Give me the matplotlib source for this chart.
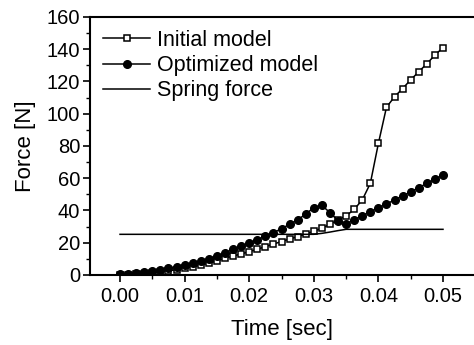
import numpy as np
import matplotlib.pyplot as plt
from matplotlib.ticker import MultipleLocator

plt.rcParams['font.family'] = ['Liberation Sans', 'DejaVu Sans']

# time grid (sec), 0.00125 step
time = np.arange(41) * 0.00125

initial = [0.0, 0.2, 0.5, 0.9, 1.4, 2.0, 2.6, 3.3, 4.1, 5.0,
           6.1, 7.2, 8.7, 10.3, 11.8, 13.0, 14.5, 15.9, 17.6, 19.2,
           20.7, 22.3, 23.8, 25.4, 27.1, 29.0, 31.4, 34.2, 36.6, 40.7,
           46.5, 56.8, 81.6, 104.0, 110.5, 115.6, 121.0, 126.0, 131.0, 136.3,
           141.0]
optimized = [0.3, 0.6, 1.2, 1.8, 2.5, 3.3, 4.2, 5.2, 6.3, 7.5,
             8.8, 10.2, 11.8, 13.8, 15.9, 17.8, 19.8, 21.9, 24.0, 26.2,
             28.7, 31.4, 34.1, 37.8, 41.7, 43.2, 38.6, 33.7, 31.6, 34.2,
             36.7, 39.2, 41.7, 44.0, 46.5, 49.0, 51.5, 54.1, 56.8, 59.3,
             62.0]
spring = [25.2] * 25 + [25.8, 26.6, 27.5, 28.3] + [28.3] * 12

fig = plt.figure(figsize=(4.74, 3.45), dpi=100)
ax = fig.add_axes([0.19, 0.203, 0.81, 0.748])

ax.plot(time, initial, color='black', lw=1.1, marker='s', markersize=5,
        markerfacecolor='white', markeredgecolor='black', markeredgewidth=1.1,
        label='Initial model')
ax.plot(time, optimized, color='black', lw=1.1, marker='o', markersize=5.5,
        markerfacecolor='black', label='Optimized model')
ax.plot(time, spring, color='black', lw=1.1, label='Spring force')

ax.set_xlim(-0.00464, 0.0548)
ax.set_ylim(0, 160)
ax.xaxis.set_major_locator(MultipleLocator(0.01))
ax.xaxis.set_minor_locator(MultipleLocator(0.005))
ax.yaxis.set_major_locator(MultipleLocator(20))
ax.yaxis.set_minor_locator(MultipleLocator(10))
ax.xaxis.set_major_formatter(plt.FormatStrFormatter('%.2f'))

ax.tick_params(which='major', length=5, width=1.2, labelsize=14.5)
ax.tick_params(which='minor', length=3, width=1.0)
ax.tick_params(axis='x', pad=4)
ax.tick_params(axis='y', pad=2)

for s in ['left', 'bottom', 'top']:
    ax.spines[s].set_linewidth(1.5)
ax.spines['right'].set_visible(False)

ax.set_xlabel('Time [sec]', fontsize=16, labelpad=9)
ax.set_ylabel('Force [N]', fontsize=16, labelpad=8)

ax.legend(loc='upper left', frameon=False, fontsize=15.5, handlelength=2.2,
          handletextpad=0.33, labelspacing=0.2, borderaxespad=0.2,
          bbox_to_anchor=(0.0, 1.0))

fig.savefig('out.png', dpi=100)
